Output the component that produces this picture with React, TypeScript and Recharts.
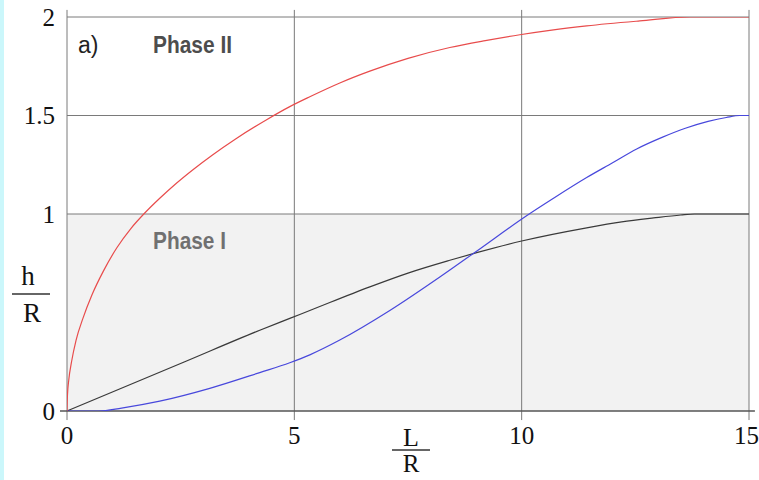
import { ComposedChart, Line, XAxis, YAxis, ReferenceLine, ReferenceArea } from 'recharts';

const xTicks = [0, 5, 10, 15];
const yTicks = [0, 1, 1.5, 2];
const gridY = [1, 1.5, 2];

// (L/R, h/R)
const redX = [0, 0.01, 0.04, 0.1, 0.2, 0.35, 0.55, 0.8, 1.1, 1.4, 1.71, 2.04, 2.4, 2.77, 3.2, 3.7, 4.4, 4.9, 5.34, 6.0, 6.66, 7.5, 8.42, 9.2, 9.96, 10.7, 11.43, 12.6, 13.7, 15];
const redY = [0, 0.08, 0.16, 0.25, 0.36, 0.47, 0.59, 0.71, 0.83, 0.925, 1.005, 1.08, 1.155, 1.225, 1.3, 1.38, 1.48, 1.545, 1.595, 1.665, 1.725, 1.79, 1.845, 1.88, 1.91, 1.935, 1.955, 1.98, 2.0, 2.0];

const blackX = [0, 2.59, 4.24, 4.9, 5.34, 6.66, 7.5, 8.42, 9.03, 10, 11.43, 12.2, 12.9, 13.5, 13.8, 15];
const blackY = [0, 0.25, 0.41, 0.47, 0.51, 0.63, 0.7, 0.765, 0.805, 0.863, 0.93, 0.96, 0.98, 0.995, 1.0, 1.0];

const blueX = [0, 0.7, 1.2, 2.04, 3.14, 4.24, 4.9, 5.34, 6.0, 7.1, 8.2, 9.0, 10.1, 10.7, 11.43, 12.0, 12.53, 13.1, 13.6, 14.1, 14.5, 14.8, 15];
const blueY = [0, 0, 0.015, 0.05, 0.115, 0.195, 0.245, 0.285, 0.36, 0.51, 0.68, 0.81, 0.99, 1.08, 1.185, 1.26, 1.33, 1.39, 1.435, 1.47, 1.49, 1.5, 1.5];

const toPoints = (xs: number[], ys: number[]) => xs.map((x, i) => ({ x, y: ys[i] }));

const redData = toPoints(redX, redY);
const blackData = toPoints(blackX, blackY);
const blueData = toPoints(blueX, blueY);

const serif = "'Liberation Serif', 'DejaVu Serif', serif";
const narrow = "'Liberation Sans Narrow', 'Liberation Sans', Arial, sans-serif";

export default function App() {
    const tickStyle = { fontFamily: serif, fontSize: 25, fill: '#111' };

    return (
        <div style={{ position: 'relative', width: 759, height: 480, background: '#fff', overflow: 'hidden' }}>
            <style>{'body{margin:0}'}</style>
            <div style={{ position: 'absolute', left: 0, top: 0, width: 4, height: 480, background: '#cbf7fb' }} />
            <ComposedChart
                width={759}
                height={480}
                margin={{ top: 17, right: 10, bottom: 0, left: 8 }}
            >
                <XAxis
                    dataKey="x"
                    type="number"
                    domain={[0, 15]}
                    ticks={xTicks}
                    allowDataOverflow
                    axisLine={false}
                    tickLine={false}
                    tickSize={9}
                    tickMargin={6}
                    height={69}
                    tick={tickStyle}
                />
                <YAxis
                    type="number"
                    domain={[0, 2]}
                    ticks={yTicks}
                    allowDataOverflow
                    axisLine={false}
                    tickLine={false}
                    tickSize={7}
                    tickMargin={5}
                    width={59}
                    tick={tickStyle}
                />
                <ReferenceArea x1={0} x2={15} y1={0} y2={1} fill="#f2f2f2" fillOpacity={1} stroke="none" />
                {gridY.map(v => (
                    <ReferenceLine key={`gy-${v}`} y={v} stroke="#7a7a7a" strokeWidth={1} />
                ))}
                {xTicks.map(v => (
                    <ReferenceLine
                        key={`gx-${v}`}
                        segment={[{ x: v, y: -0.046 }, { x: v, y: 2.036 }]}
                        stroke="#7a7a7a"
                        strokeWidth={1}
                        ifOverflow="visible"
                    />
                ))}
                <ReferenceLine
                    segment={[{ x: -0.154, y: 0 }, { x: 15.13, y: 0 }]}
                    stroke="#555"
                    strokeWidth={1.5}
                    ifOverflow="visible"
                />
                <Line data={blackData} dataKey="y" type="monotone" stroke="#3a3a3a" strokeWidth={1.2} dot={false} isAnimationActive={false} />
                <Line data={blueData} dataKey="y" type="monotone" stroke="#4848dc" strokeWidth={1.2} dot={false} isAnimationActive={false} />
                <Line data={redData} dataKey="y" type="monotone" stroke="#e84c4c" strokeWidth={1.2} dot={false} isAnimationActive={false} />
            </ComposedChart>
            <svg width={759} height={480} style={{ position: 'absolute', left: 0, top: 0, pointerEvents: 'none' }}>
                <text x={78} y={53} fontFamily="'Liberation Sans', Arial, sans-serif" fontSize={23} fill="#222">a)</text>
                <text x={153} y={52.5} fontFamily={narrow} fontWeight="bold" fontSize={24} fill="#4d4d4d" textLength={79} lengthAdjust="spacingAndGlyphs">Phase II</text>
                <text x={153} y={249} fontFamily={narrow} fontWeight="bold" fontSize={24} fill="#707070" textLength={73} lengthAdjust="spacingAndGlyphs">Phase I</text>
                {/* h / R */}
                <text x={28} y={285} textAnchor="middle" fontFamily={serif} fontSize={27} fill="#111">h</text>
                <line x1={12} x2={50} y1={294} y2={294} stroke="#333" strokeWidth={1.5} />
                <text x={32} y={322} textAnchor="middle" fontFamily={serif} fontSize={27} fill="#111">R</text>
                {/* L / R */}
                <text x={411} y={446} textAnchor="middle" fontFamily={serif} fontSize={26} fill="#111">L</text>
                <line x1={392} x2={430} y1={450} y2={450} stroke="#333" strokeWidth={1.5} />
                <text x={411} y={472} textAnchor="middle" fontFamily={serif} fontSize={25} fill="#111">R</text>
            </svg>
        </div>
    );
}
